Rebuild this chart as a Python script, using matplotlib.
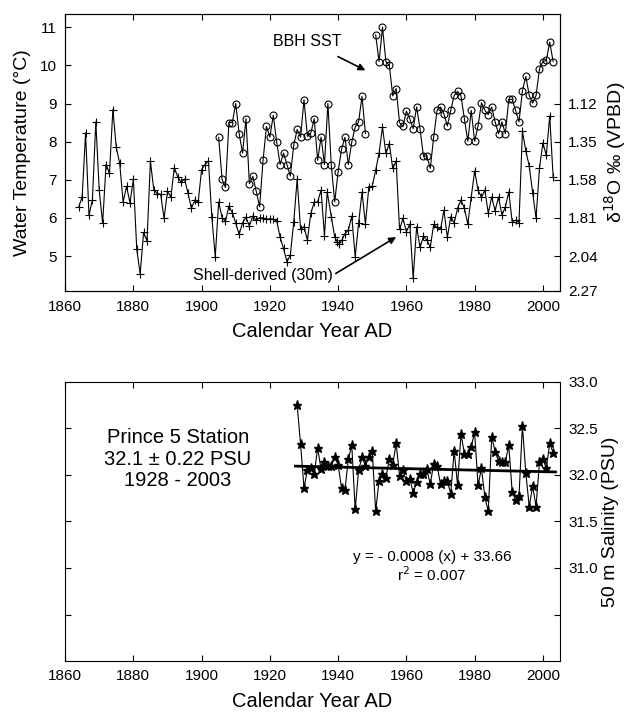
import numpy as np
import matplotlib.pyplot as plt

plt.rcParams['font.family'] = ['Liberation Sans', 'DejaVu Sans']

# shell-derived water temperature (30m)
shell_years = [1864, 1865, 1866, 1867, 1868, 1869, 1870, 1871, 1872, 1873,
               1874, 1875, 1876, 1877, 1878, 1879, 1880, 1881, 1882, 1883,
               1884, 1885, 1886, 1887, 1888, 1889, 1890, 1891, 1892, 1893,
               1894, 1895, 1896, 1897, 1898, 1899, 1900, 1901, 1902, 1903,
               1904, 1905, 1906, 1907, 1908, 1909, 1910, 1911, 1912, 1913,
               1914, 1915, 1916, 1917, 1918, 1919, 1920, 1921, 1922, 1923,
               1924, 1925, 1926, 1927, 1928, 1929, 1930, 1931, 1932, 1933,
               1934, 1935, 1936, 1936.8, 1938, 1939, 1939.7, 1940.4, 1941.1, 1942,
               1943, 1944, 1945, 1946, 1947, 1948, 1949, 1950, 1951, 1952,
               1953, 1954, 1955, 1956, 1957, 1958, 1959, 1960, 1961, 1962,
               1963, 1964, 1965, 1966, 1967, 1968, 1969, 1970, 1971, 1972,
               1973, 1974, 1975, 1976, 1977, 1978, 1979, 1980, 1981, 1982,
               1983, 1984, 1985, 1986, 1987, 1988, 1989, 1990, 1991, 1992,
               1993, 1994, 1995, 1996, 1997, 1998, 1999, 2000, 2001, 2002,
               2003]
shell_temp = [6.29, 6.55, 8.23, 6.07, 6.47, 8.52, 6.73, 5.86, 7.40, 7.17,
              8.84, 7.85, 7.43, 6.42, 6.83, 6.40, 7.01, 5.18, 4.53, 5.62,
              5.40, 7.49, 6.73, 6.64, 6.62, 5.99, 6.70, 6.55, 7.32, 7.08,
              6.93, 7.02, 6.66, 6.25, 6.47, 6.42, 7.27, 7.40, 7.49, 6.02,
              4.98, 6.42, 6.01, 5.92, 6.31, 6.14, 5.86, 5.57, 5.87, 6.02,
              5.79, 6.05, 5.94, 6.01, 6.00, 5.96, 5.98, 5.97, 5.92, 5.50,
              5.20, 4.85, 5.03, 5.90, 7.02, 5.70, 5.77, 5.42, 6.12, 6.41,
              6.42, 6.73, 5.53, 6.68, 6.03, 5.50, 5.38, 5.33, 5.42, 5.59,
              5.68, 6.05, 4.98, 5.86, 6.68, 5.84, 6.81, 6.83, 7.25, 7.70,
              8.38, 7.69, 7.95, 7.30, 7.49, 5.70, 5.99, 5.64, 5.84, 4.42,
              5.77, 5.23, 5.52, 5.42, 5.23, 5.83, 5.75, 5.70, 6.20, 5.49,
              6.03, 5.87, 6.25, 6.47, 6.25, 5.84, 6.55, 7.23, 6.73, 6.54,
              6.73, 6.12, 6.55, 6.19, 6.55, 6.07, 6.29, 6.68, 5.90, 5.94,
              5.88, 8.27, 7.76, 7.36, 6.66, 6.00, 7.30, 7.97, 7.64, 8.67,
              7.08]

# BBH SST
bbh_years = [1905, 1906, 1907, 1908, 1909, 1910, 1911, 1912, 1913, 1914,
             1915, 1916, 1917, 1918, 1919, 1920, 1921, 1922, 1923, 1924,
             1925, 1926, 1927, 1928, 1929, 1930, 1931, 1932, 1933, 1934,
             1935, 1936, 1937, 1938, 1939, 1940, 1941, 1942, 1943, 1944,
             1945, 1946, 1947, 1948,
             1951, 1952, 1953, 1954, 1955, 1956, 1957, 1958, 1959, 1960,
             1961, 1962, 1963, 1964, 1965, 1966, 1967, 1968, 1969, 1970,
             1971, 1972, 1973, 1974, 1975, 1976, 1977, 1978, 1979, 1980,
             1981, 1982, 1983, 1984, 1985, 1986, 1987, 1988, 1989, 1990,
             1991, 1992, 1993, 1994, 1995, 1996, 1997, 1998, 1999, 2000,
             2001, 2002, 2003]
bbh_temp = [8.11, 7.01, 6.80, 8.50, 8.50, 9.00, 8.21, 7.70, 8.60, 6.90,
            7.09, 6.70, 6.29, 7.51, 8.40, 8.12, 8.69, 7.99, 7.40, 7.70,
            7.40, 7.10, 7.91, 8.32, 8.12, 9.10, 8.14, 8.23, 8.60, 7.51,
            8.12, 7.40, 9.00, 7.38, 6.42, 7.21, 7.80, 8.11, 7.40, 7.99,
            8.38, 8.52, 9.19, 8.21,
            10.80, 10.10, 11.00, 10.10, 10.00, 9.20, 9.39, 8.50, 8.40, 8.80,
            8.60, 8.34, 8.91, 8.34, 7.62, 7.62, 7.30, 8.12, 8.82, 8.91,
            8.73, 8.41, 8.82, 9.21, 9.32, 9.20, 8.60, 8.01, 8.82, 8.01,
            8.41, 9.02, 8.82, 8.71, 8.91, 8.52, 8.21, 8.52, 8.21, 9.11,
            9.11, 8.82, 8.52, 9.33, 9.71, 9.21, 9.01, 9.21, 9.91, 10.10,
            10.13, 10.61, 10.10]

d18o_pos = [9, 8, 7, 6, 5, 4.09]
d18o_labels = ['1.12', '1.35', '1.58', '1.81', '2.04', '2.27']

# Prince 5 station 50 m salinity
sal_years = list(range(1928, 2004))
sal_psu = [32.75, 32.33, 31.86, 32.05, 32.07, 32.01, 32.29, 32.06, 32.14, 32.10,
           32.10, 32.19, 32.11, 31.86, 31.84, 32.17, 32.32, 31.63, 32.05, 32.19,
           32.10, 32.19, 32.26, 31.61, 31.94, 32.01, 31.97, 32.17, 32.11, 32.34,
           31.99, 32.05, 31.93, 31.96, 31.81, 31.92, 32.01, 32.01, 32.06, 31.90,
           32.12, 32.10, 31.90, 31.94, 31.93, 31.80, 32.26, 31.89, 32.44, 32.23,
           32.23, 32.30, 32.46, 31.89, 32.07, 31.76, 31.61, 32.41, 32.25, 32.15,
           32.14, 32.14, 32.32, 31.82, 31.73, 31.77, 32.53, 32.02, 31.66, 31.88,
           31.66, 32.14, 32.17, 32.07, 32.34, 32.24]

year_ticks = list(range(1860, 2001, 20))

fig = plt.figure(figsize=(6.32, 7.12), dpi=100)

# ---- top panel
ax1 = fig.add_axes([0.103, 0.591, 0.783, 0.389])
ax1.plot(shell_years, shell_temp, color='black', lw=0.8, marker='+', ms=5.5, mew=0.8)
by = np.array(bbh_years, dtype=float)
bt = np.array(bbh_temp)
cut = np.where(np.diff(by) > 1)[0] + 1
for yy, tt in zip(np.split(by, cut), np.split(bt, cut)):
    ax1.plot(yy, tt, color='black', lw=0.8, marker='o', ms=5, mfc='none', mew=0.8)
ax1.set_xlim(1860, 2005)
ax1.set_ylim(4.08, 11.34)
ax1.set_xticks(year_ticks)
ax1.set_yticks(range(5, 12))
ax1.tick_params(direction='in', top=True, right=True, length=4, labelsize=11, pad=6)
ax1.set_xlabel('Calendar Year AD', fontsize=14.5, labelpad=6)
ax1.set_ylabel('Water Temperature (°C)', fontsize=14, labelpad=6)

tw = ax1.twinx()
tw.set_ylim(ax1.get_ylim())
tw.set_yticks(d18o_pos)
tw.set_yticklabels(d18o_labels)
tw.tick_params(direction='in', length=4, labelsize=11, pad=6)
tw.set_ylabel('δ$^{18}$O ‰ (VPBD)', fontsize=14, labelpad=3)

ax1.annotate('BBH SST', xy=(1948, 9.87), xytext=(1931, 10.63), fontsize=11.5,
             ha='center', va='center',
             arrowprops=dict(arrowstyle='-|>', color='black', lw=1.2,
                             shrinkA=8, shrinkB=0, mutation_scale=10))
ax1.annotate('Shell-derived (30m)', xy=(1957, 5.5), xytext=(1918, 4.5), fontsize=11.5,
             ha='center', va='center',
             arrowprops=dict(arrowstyle='-|>', color='black', lw=1.2,
                             shrinkA=0, shrinkB=0, mutation_scale=10,
                             relpos=(1.0, 0.5)))

# ---- bottom panel
ax2 = fig.add_axes([0.103, 0.0716, 0.783, 0.392])
ax2.plot(sal_years, sal_psu, color='black', lw=0.8, marker='*', ms=6.5)
coef = np.polyfit(sal_years, sal_psu, 1)
fx = np.array([sal_years[0] - 0.5, sal_years[-1] + 0.7])
ax2.plot(fx, np.polyval(coef, fx), color='black', lw=2)
ax2.set_xlim(1860, 2005)
ax2.set_ylim(30.0, 33.0)
ax2.set_xticks(year_ticks)
ax2.set_yticks([30.5, 31.0, 31.5, 32.0, 32.5, 33.0])
ax2.set_yticklabels(['', '31.0', '31.5', '32.0', '32.5', '33.0'])
ax2.tick_params(direction='in', top=True, right=True, left=True,
                labelleft=False, labelright=True, length=4, labelsize=11, pad=6)
ax2.yaxis.set_label_position('right')
ax2.set_ylabel('50 m Salinity (PSU)', fontsize=14, labelpad=3)
ax2.set_xlabel('Calendar Year AD', fontsize=14.5, labelpad=6)

ax2.text(1893, 32.17, 'Prince 5 Station\n32.1 ± 0.22 PSU\n1928 - 2003',
         fontsize=14.5, ha='center', va='center', linespacing=1.15)
ax2.text(1967.5, 31.12, 'y = - 0.0008 (x) + 33.66', fontsize=11, ha='center', va='center')
ax2.text(1967.5, 30.93, 'r$^2$ = 0.007', fontsize=11, ha='center', va='center')

fig.savefig('out.png', dpi=100)
